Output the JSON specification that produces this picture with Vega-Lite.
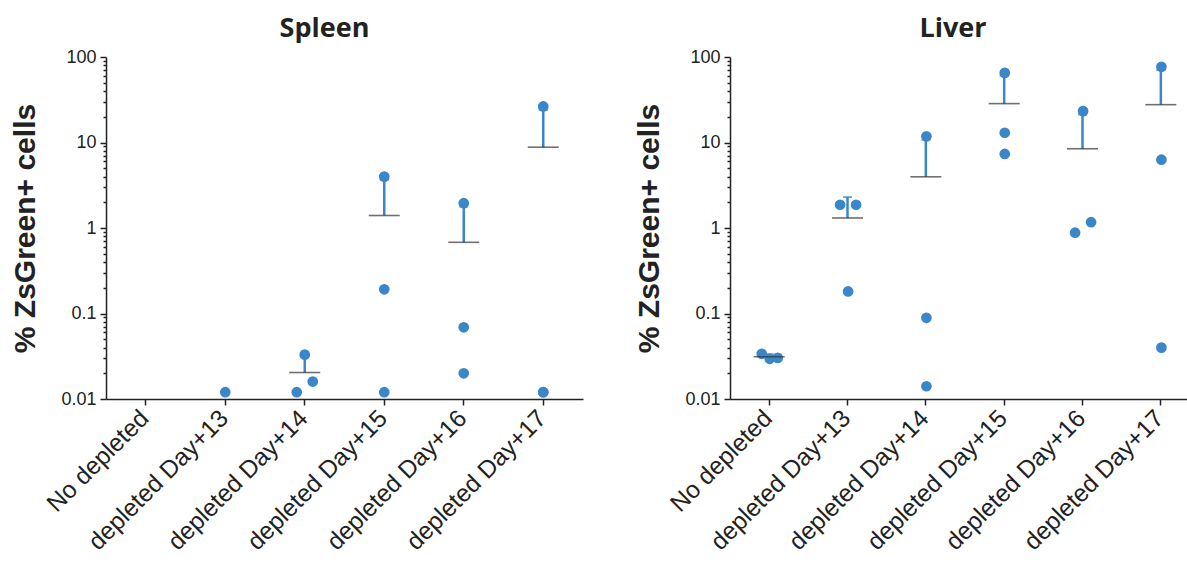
{
  "$schema": "https://vega.github.io/schema/vega-lite/v6.json",
  "padding": {"left": 10, "top": 15, "right": 0, "bottom": 0},
  "background": "white",
  "spacing": 51,
  "datasets": {
    "points": [
      {"organ": "Spleen", "group": "depleted Day+13", "jitter": "C", "value": 0.012},
      {"organ": "Spleen", "group": "depleted Day+14", "jitter": "C", "value": 0.033},
      {"organ": "Spleen", "group": "depleted Day+14", "jitter": "R", "value": 0.016},
      {"organ": "Spleen", "group": "depleted Day+14", "jitter": "L", "value": 0.012},
      {"organ": "Spleen", "group": "depleted Day+15", "jitter": "C", "value": 3.99},
      {"organ": "Spleen", "group": "depleted Day+15", "jitter": "C", "value": 0.192},
      {"organ": "Spleen", "group": "depleted Day+15", "jitter": "C", "value": 0.012},
      {"organ": "Spleen", "group": "depleted Day+16", "jitter": "C", "value": 1.95},
      {"organ": "Spleen", "group": "depleted Day+16", "jitter": "C", "value": 0.069},
      {"organ": "Spleen", "group": "depleted Day+16", "jitter": "C", "value": 0.020},
      {"organ": "Spleen", "group": "depleted Day+17", "jitter": "C", "value": 26.4},
      {"organ": "Spleen", "group": "depleted Day+17", "jitter": "C", "value": 0.012},
      {"organ": "Spleen", "group": "depleted Day+17", "jitter": "C", "value": 0.012},
      {"organ": "Liver", "group": "No depleted", "jitter": "L", "value": 0.0338},
      {"organ": "Liver", "group": "No depleted", "jitter": "C", "value": 0.0295},
      {"organ": "Liver", "group": "No depleted", "jitter": "R", "value": 0.0303},
      {"organ": "Liver", "group": "depleted Day+13", "jitter": "L", "value": 1.87},
      {"organ": "Liver", "group": "depleted Day+13", "jitter": "R", "value": 1.87},
      {"organ": "Liver", "group": "depleted Day+13", "jitter": "C", "value": 0.181},
      {"organ": "Liver", "group": "depleted Day+14", "jitter": "C", "value": 11.8},
      {"organ": "Liver", "group": "depleted Day+14", "jitter": "C", "value": 0.089},
      {"organ": "Liver", "group": "depleted Day+14", "jitter": "C", "value": 0.0141},
      {"organ": "Liver", "group": "depleted Day+15", "jitter": "C", "value": 65.2},
      {"organ": "Liver", "group": "depleted Day+15", "jitter": "C", "value": 13.0},
      {"organ": "Liver", "group": "depleted Day+15", "jitter": "C", "value": 7.34},
      {"organ": "Liver", "group": "depleted Day+16", "jitter": "C", "value": 23.3},
      {"organ": "Liver", "group": "depleted Day+16", "jitter": "L", "value": 0.881},
      {"organ": "Liver", "group": "depleted Day+16", "jitter": "R", "value": 1.17},
      {"organ": "Liver", "group": "depleted Day+17", "jitter": "C", "value": 76.8},
      {"organ": "Liver", "group": "depleted Day+17", "jitter": "C", "value": 6.29},
      {"organ": "Liver", "group": "depleted Day+17", "jitter": "C", "value": 0.0399}
    ],
    "summary": [
      {"organ": "Spleen", "group": "depleted Day+14", "mean": 0.0204, "upper": 0.0317},
      {"organ": "Spleen", "group": "depleted Day+15", "mean": 1.40, "upper": 3.65},
      {"organ": "Spleen", "group": "depleted Day+16", "mean": 0.68, "upper": 1.78},
      {"organ": "Spleen", "group": "depleted Day+17", "mean": 8.81, "upper": 24.05},
      {"organ": "Liver", "group": "No depleted", "mean": 0.0312, "upper": 0.0335},
      {"organ": "Liver", "group": "depleted Day+13", "mean": 1.31, "upper": 2.30},
      {"organ": "Liver", "group": "depleted Day+14", "mean": 3.97, "upper": 10.75},
      {"organ": "Liver", "group": "depleted Day+15", "mean": 28.5, "upper": 60.4},
      {"organ": "Liver", "group": "depleted Day+16", "mean": 8.45, "upper": 21.3},
      {"organ": "Liver", "group": "depleted Day+17", "mean": 27.7, "upper": 70.3}
    ]
  },
  "hconcat": [
    {
      "title": {"text": "Spleen", "dx": -20},
      "width": 477,
      "height": 342,
      "layer": [
        {
          "data": {"name": "points"},
          "transform": [{"filter": "datum.organ === 'Spleen'"}],
          "mark": {"type": "circle", "size": 115, "opacity": 1, "color": "#3b86c8"},
          "encoding": {
            "x": {"field": "group", "type": "nominal", "sort": null, "title": null,
                  "scale": {"domain": ["No depleted", "depleted Day+13", "depleted Day+14", "depleted Day+15", "depleted Day+16", "depleted Day+17"], "paddingInner": 0, "paddingOuter": 0},
                  "axis": {"labelAngle": -45, "labelFontSize": 24.5, "tickSize": 6, "labelPadding": 1, "labelLimit": 400, "labelOffset": -9}},
            "xOffset": {"field": "jitter", "type": "nominal", "scale": {"type": "point", "domain": ["L", "C", "R"], "range": [31.75, 47.75], "padding": 0}},
            "y": {"field": "value", "type": "quantitative", "title": "% ZsGreen+ cells",
                  "scale": {"type": "log", "domain": [0.01, 100]},
                  "axis": {"titleFontSize": 30, "titleFontWeight": "bold", "titlePadding": 20, "labelFontSize": 18, "labelOverlap": false, "labelPadding": 4,
                           "values": [0.01,0.02,0.03,0.04,0.05,0.06,0.07,0.08,0.09,0.1,0.2,0.3,0.4,0.5,0.6,0.7,0.8,0.9,1,2,3,4,5,6,7,8,9,10,20,30,40,50,60,70,80,90,100],
                           "labelExpr": "indexof([0.01,0.1,1,10,100], datum.value) >= 0 ? format(datum.value, '~g') : ''",
                           "tickSize": {"condition": {"test": "indexof([0.01,0.1,1,10,100], datum.value) >= 0", "value": 6}, "value": 3}}}
          }
        },
        {
          "data": {"name": "summary"},
          "transform": [{"filter": "datum.organ === 'Spleen'"}],
          "mark": {"type": "rule", "color": "#3b86c8", "strokeWidth": 2.5},
          "encoding": {
            "x": {"field": "group", "type": "nominal", "title": null},
            "y": {"field": "mean", "type": "quantitative", "title": "% ZsGreen+ cells"},
            "y2": {"field": "upper"}
          }
        },
        {
          "data": {"name": "summary"},
          "transform": [{"filter": "datum.organ === 'Spleen'"}],
          "mark": {"type": "tick", "color": "#3b86c8", "size": 9, "thickness": 2},
          "encoding": {
            "x": {"field": "group", "type": "nominal", "title": null},
            "y": {"field": "upper", "type": "quantitative", "title": "% ZsGreen+ cells"}
          }
        },
        {
          "data": {"name": "summary"},
          "transform": [{"filter": "datum.organ === 'Spleen'"}],
          "mark": {"type": "tick", "color": "#333333", "size": 31, "thickness": 1.6},
          "encoding": {
            "x": {"field": "group", "type": "nominal", "title": null},
            "y": {"field": "mean", "type": "quantitative", "title": "% ZsGreen+ cells"}
          }
        }
      ]
    },
    {
      "title": {"text": "Liver", "dx": -12},
      "width": 470,
      "height": 342,
      "layer": [
        {
          "data": {"name": "points"},
          "transform": [{"filter": "datum.organ === 'Liver'"}],
          "mark": {"type": "circle", "size": 115, "opacity": 1, "color": "#3b86c8"},
          "encoding": {
            "x": {"field": "group", "type": "nominal", "sort": null, "title": null,
                  "scale": {"domain": ["No depleted", "depleted Day+13", "depleted Day+14", "depleted Day+15", "depleted Day+16", "depleted Day+17"], "paddingInner": 0, "paddingOuter": 0},
                  "axis": {"labelAngle": -45, "labelFontSize": 24.5, "tickSize": 6, "labelPadding": 1, "labelLimit": 400, "labelOffset": -9}},
            "xOffset": {"field": "jitter", "type": "nominal", "scale": {"type": "point", "domain": ["L", "C", "R"], "range": [31.2, 47.2], "padding": 0}},
            "y": {"field": "value", "type": "quantitative", "title": "% ZsGreen+ cells",
                  "scale": {"type": "log", "domain": [0.01, 100]},
                  "axis": {"titleFontSize": 30, "titleFontWeight": "bold", "titlePadding": 20, "labelFontSize": 18, "labelOverlap": false, "labelPadding": 4,
                           "values": [0.01,0.02,0.03,0.04,0.05,0.06,0.07,0.08,0.09,0.1,0.2,0.3,0.4,0.5,0.6,0.7,0.8,0.9,1,2,3,4,5,6,7,8,9,10,20,30,40,50,60,70,80,90,100],
                           "labelExpr": "indexof([0.01,0.1,1,10,100], datum.value) >= 0 ? format(datum.value, '~g') : ''",
                           "tickSize": {"condition": {"test": "indexof([0.01,0.1,1,10,100], datum.value) >= 0", "value": 6}, "value": 3}}}
          }
        },
        {
          "data": {"name": "summary"},
          "transform": [{"filter": "datum.organ === 'Liver'"}],
          "mark": {"type": "rule", "color": "#3b86c8", "strokeWidth": 2.5},
          "encoding": {
            "x": {"field": "group", "type": "nominal", "title": null},
            "y": {"field": "mean", "type": "quantitative", "title": "% ZsGreen+ cells"},
            "y2": {"field": "upper"}
          }
        },
        {
          "data": {"name": "summary"},
          "transform": [{"filter": "datum.organ === 'Liver'"}],
          "mark": {"type": "tick", "color": "#3b86c8", "size": 9, "thickness": 2},
          "encoding": {
            "x": {"field": "group", "type": "nominal", "title": null},
            "y": {"field": "upper", "type": "quantitative", "title": "% ZsGreen+ cells"}
          }
        },
        {
          "data": {"name": "summary"},
          "transform": [{"filter": "datum.organ === 'Liver'"}],
          "mark": {"type": "tick", "color": "#333333", "size": 31, "thickness": 1.6},
          "encoding": {
            "x": {"field": "group", "type": "nominal", "title": null},
            "y": {"field": "mean", "type": "quantitative", "title": "% ZsGreen+ cells"}
          }
        }
      ]
    }
  ],
  "config": {
    "view": {"stroke": null},
    "font": "Liberation Sans",
    "title": {"font": "Open Sans", "fontSize": 27, "fontWeight": "bold", "color": "#222222", "anchor": "middle", "offset": 5},
    "axis": {"grid": false, "domainColor": "#222222", "tickColor": "#222222", "domainWidth": 1.5, "tickWidth": 1.5, "labelColor": "#222222", "titleColor": "#222222", "labelFont": "Liberation Sans", "titleFont": "Liberation Sans"}
  }
}
